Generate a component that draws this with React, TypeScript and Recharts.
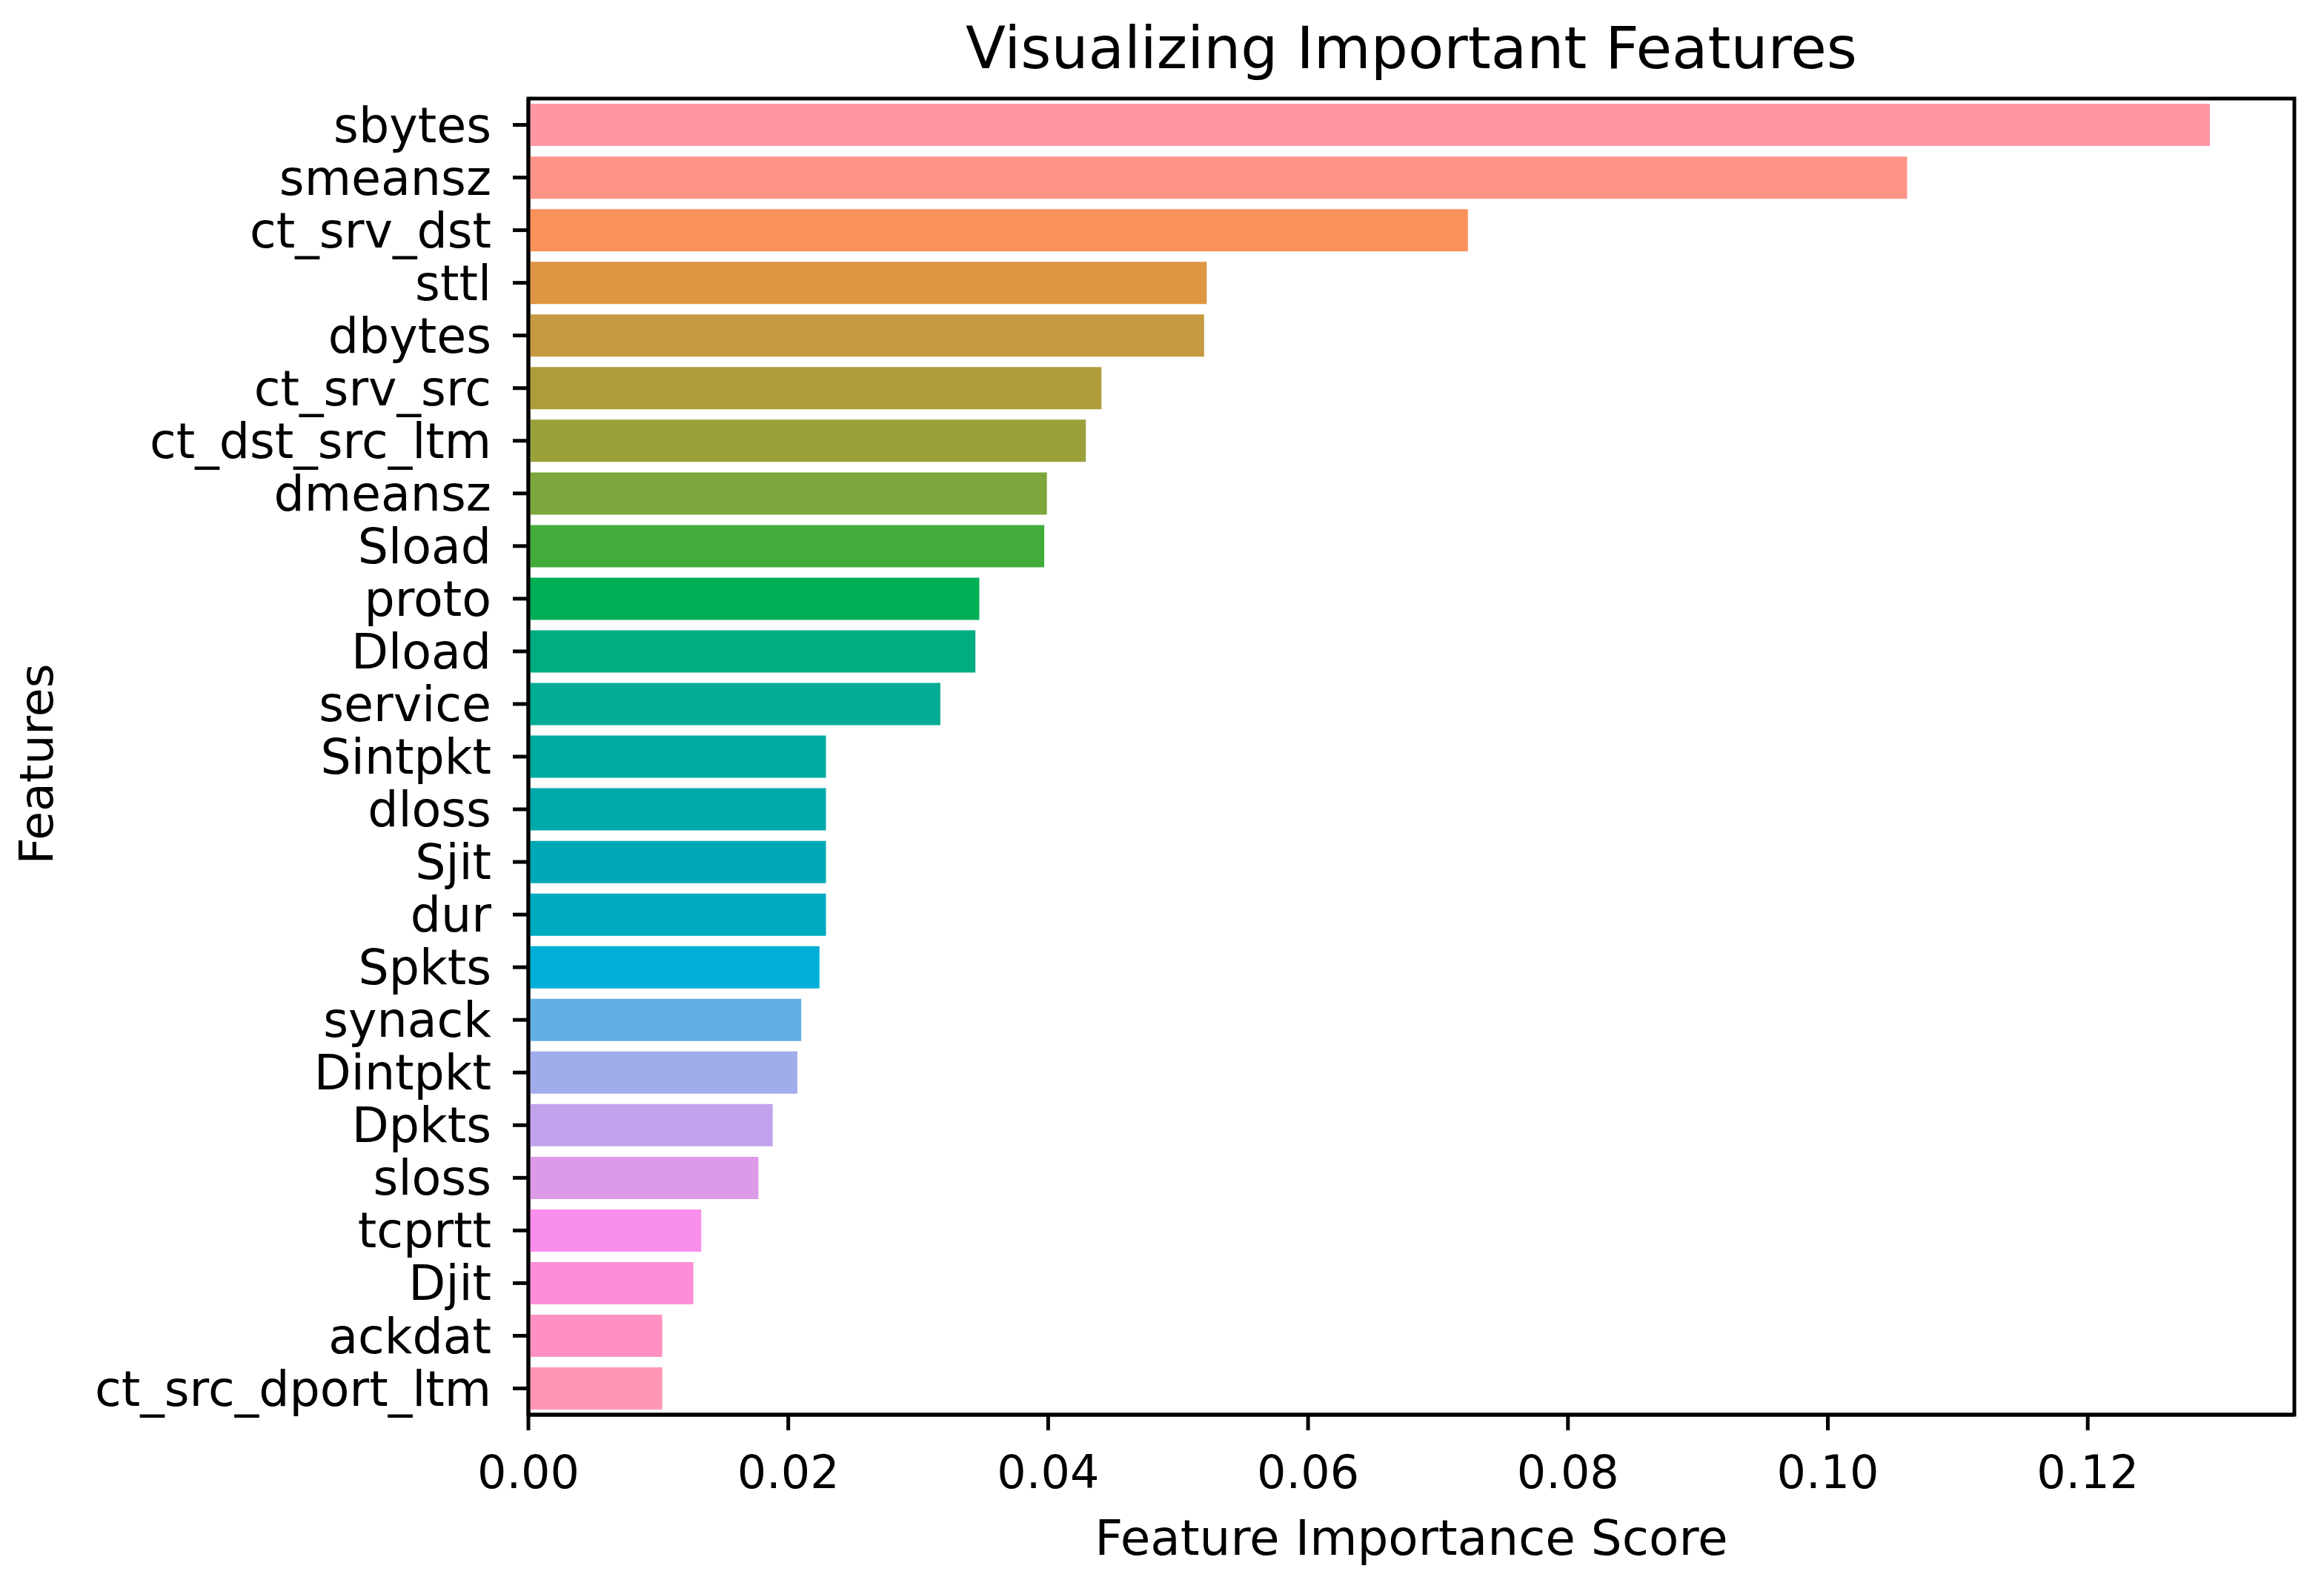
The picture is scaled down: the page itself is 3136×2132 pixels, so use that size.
import React from 'react';
import { BarChart, Bar, XAxis, YAxis, Cell, Label, usePlotArea } from 'recharts';

const features = [
  'sbytes', 'smeansz', 'ct_srv_dst', 'sttl', 'dbytes', 'ct_srv_src', 'ct_dst_src_ltm',
  'dmeansz', 'Sload', 'proto', 'Dload', 'service', 'Sintpkt', 'dloss', 'Sjit', 'dur',
  'Spkts', 'synack', 'Dintpkt', 'Dpkts', 'sloss', 'tcprtt', 'Djit', 'ackdat', 'ct_src_dport_ltm',
];

const scores = [
  0.1294, 0.1061, 0.0723, 0.0522, 0.0520, 0.0441, 0.0429, 0.0399, 0.0397, 0.0347,
  0.0344, 0.0317, 0.0229, 0.0229, 0.0229, 0.0229, 0.0224, 0.0210, 0.0207, 0.0188,
  0.0177, 0.0133, 0.0127, 0.0103, 0.0103,
];

const xTicks = [0, 0.02, 0.04, 0.06, 0.08, 0.1, 0.12];

// husl-like palette, one per feature
const palette = [
  '#ff96a3', '#fe9488', '#f9925a', '#dd9742', '#c59a41', '#af9d3b', '#9aa13b', '#7da63c',
  '#43ab3b', '#00ae56', '#00ad82', '#00ad94', '#00aca1', '#00aaab', '#00a9b5', '#00abc2',
  '#00afd7', '#63aee4', '#a1aceb', '#c2a2ec', '#dd9ae8', '#fa8eeb', '#fd8dd6', '#ff90c2',
  '#ff97b4',
];

const data = features.map((name, i) => ({ name, score: scores[i] }));

const FONT = 'DejaVu Sans';

// axes box (all four spines) + title, drawn from the plot area
const Frame = () => {
  const area = usePlotArea();
  if (!area) return null;
  return (
    <g>
      <rect x={area.x} y={area.y} width={area.width} height={area.height} fill="none" stroke="#000" strokeWidth={5} />
      <text
        x={area.x + area.width / 2}
        y={area.y - 41}
        textAnchor="middle"
        fontSize={79}
        fontFamily={FONT}
        fill="#000"
      >
        Visualizing Important Features
      </text>
    </g>
  );
};

export default function App() {
  return (
    <div style={{ position: 'absolute', left: 0, top: 0, width: 3136, height: 2132, background: '#fff' }}>
      <style>{'body{margin:0}'}</style>
      <BarChart
        width={3136}
        height={2132}
        data={data}
        layout="vertical"
        margin={{ top: 133, right: 40, bottom: 0, left: 0 }}
        barCategoryGap="10%"
      >
        <XAxis
          type="number"
          dataKey="score"
          domain={[0, 0.1359]}
          ticks={xTicks}
          tickFormatter={(v: number) => v.toFixed(2)}
          height={223}
          allowDataOverflow
          stroke="#000"
          strokeWidth={5}
          tickSize={21}
          tickMargin={34}
          tick={{ fill: '#000', fontSize: 62, fontFamily: FONT }}
        >
          <Label
            content={(p: any) => (
              <text
                x={p.viewBox.x + p.viewBox.width / 2}
                y={2098}
                textAnchor="middle"
                fontSize={66}
                fontFamily={FONT}
                fill="#000"
              >
                Feature Importance Score
              </text>
            )}
          />
        </XAxis>
        <YAxis
          type="category"
          dataKey="name"
          width={713}
          stroke="#000"
          strokeWidth={5}
          tickSize={21}
          tickMargin={29}
          interval={0}
          tick={{ fill: '#000', fontSize: 65, fontFamily: FONT }}
        >
          <Label
            content={() => (
              <text
                x={71}
                y={1031}
                transform="rotate(-90, 71, 1031)"
                textAnchor="middle"
                fontSize={63}
                fontFamily={FONT}
                fill="#000"
              >
                Features
              </text>
            )}
          />
        </YAxis>
        <Bar dataKey="score" isAnimationActive={false}>
          {data.map((d, i) => (
            <Cell key={d.name} fill={palette[i]} />
          ))}
        </Bar>
        <Frame />
      </BarChart>
    </div>
  );
}
